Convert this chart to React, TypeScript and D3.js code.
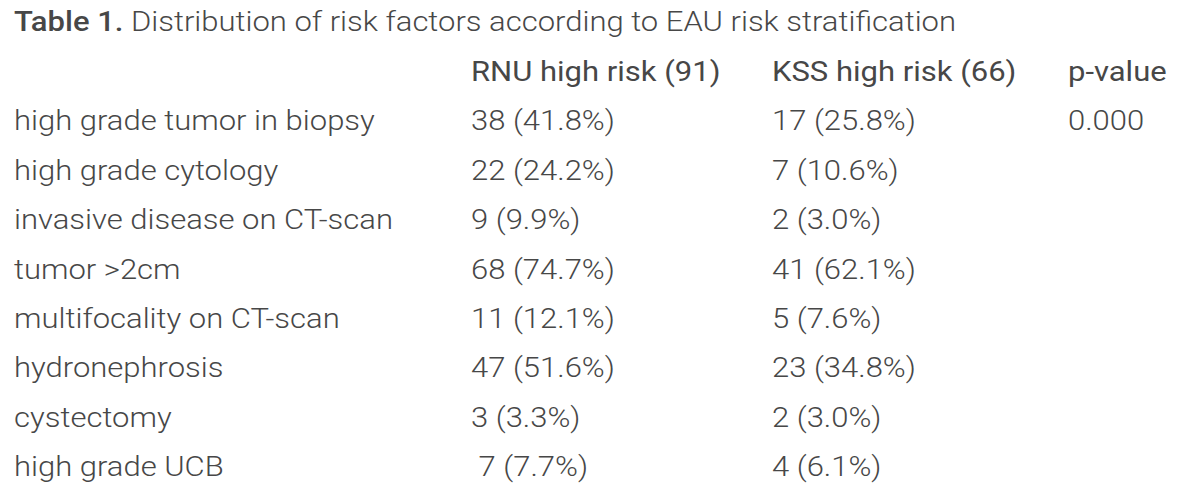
import React, { useEffect, useRef } from 'react';
import * as d3 from 'd3';

const width = 1200;
const height = 499;

const title = 'Distribution of risk factors according to EAU risk stratification';
const headers = ['', 'RNU high risk (91)', 'KSS high risk (66)', 'p-value'];
const factors = [
    'high grade tumor in biopsy',
    'high grade cytology',
    'invasive disease on CT-scan',
    'tumor >2cm',
    'multifocality on CT-scan',
    'hydronephrosis',
    'cystectomy',
    'high grade UCB',
];
const rnuCounts = [38, 22, 9, 68, 11, 47, 3, 7];
const rnuPct = ['41.8', '24.2', '9.9', '74.7', '12.1', '51.6', '3.3', '7.7'];
const kssCounts = [17, 7, 2, 41, 5, 23, 2, 4];
const kssPct = ['25.8', '10.6', '3.0', '62.1', '7.6', '34.8', '3.0', '6.1'];
const pValues = ['0.000', '', '', '', '', '', '', ''];

const colX = [14, 471, 772, 1068];

export default function App() {
    const ref = useRef<SVGSVGElement>(null);

    useEffect(() => {
        const svg = d3.select(ref.current);
        svg.selectAll('*').remove();

        svg.append('rect').attr('width', width).attr('height', height).attr('fill', '#fff');

        const ink = '#474747';
        const font = 'Roboto, sans-serif';
        const size = 28.5;
        const sx = 1.088; // the scan is a little wider than tall
        const place = (x: number, yy: number) => `translate(${x},${yy}) scale(${sx},1)`;

        const t = svg.append('text')
            .attr('transform', place(14, 31))
            .attr('font-family', font).attr('font-size', size).attr('fill', ink);
        t.append('tspan').attr('font-weight', 500).text('Table 1.');
        t.append('tspan').attr('font-weight', 300).text(' ' + title);

        const rows = ['header', ...factors.map((_, i) => i)];
        const y = d3.scaleBand<string | number>()
            .domain(rows)
            .range([40, 40 + 9 * 49.4]);

        const base = (r: string | number) => (y(r) as number) + 41;

        svg.append('g').selectAll('text')
            .data(headers)
            .join('text')
            .attr('transform', (_, i) => place(colX[i], base('header')))
            .attr('font-family', font).attr('font-size', size).attr('font-weight', 400)
            .attr('fill', ink)
            .text(d => d);

        const cells = factors.map((f, i) => [
            f,
            (i === 7 ? '\u00a0' : '') + `${rnuCounts[i]} (${rnuPct[i]}%)`,
            `${kssCounts[i]} (${kssPct[i]}%)`,
            pValues[i],
        ]);

        const g = svg.append('g').selectAll('g')
            .data(cells)
            .join('g');

        g.selectAll('text')
            .data((d, i) => d.map(v => ({ v, i })))
            .join('text')
            .attr('transform', (d, j) => place(colX[j], base(d.i)))
            .attr('font-family', font).attr('font-size', size).attr('font-weight', 300)
            .attr('fill', ink)
            .text(d => d.v);
    }, []);

    return (
        <svg ref={ref} width={width} height={height}
            style={{ position: 'absolute', left: 0, top: 0, display: 'block' }} />
    );
}
